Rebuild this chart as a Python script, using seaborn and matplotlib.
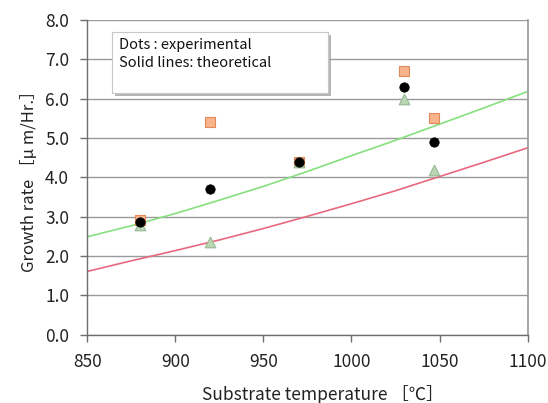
import matplotlib
matplotlib.use("Agg")
import matplotlib.pyplot as plt
import seaborn as sns
import pandas as pd
from matplotlib.patches import Rectangle

sns.set_theme(style="white")
plt.rcParams['font.family'] = ['Noto Sans CJK JP', 'DejaVu Sans']

# experimental data
temps = [880, 920, 970, 1030, 1047]
dots_circle = [2.87, 3.70, 4.40, 6.30, 4.90]
dots_square = [2.92, 5.40, 4.40, 6.70, 5.50]
dots_triangle = [2.80, 2.35, 4.38, 6.00, 4.19]

# theoretical lines
line_t = [850, 875, 900, 925, 950, 975, 1000, 1025, 1050, 1075, 1100]
line_green = [2.49, 2.77, 3.08, 3.42, 3.77, 4.15, 4.55, 4.94, 5.35, 5.76, 6.18]
line_red = [1.61, 1.88, 2.14, 2.41, 2.70, 3.01, 3.33, 3.66, 4.02, 4.38, 4.75]

xticks = [850, 900, 950, 1000, 1050, 1100]
yticks = [0, 1, 2, 3, 4, 5, 6, 7, 8]

fig = plt.figure(figsize=(5.48, 4.03), dpi=100)
ax = fig.add_axes([0.159, 0.169, 0.804, 0.782])

dfl = pd.DataFrame({"t": line_t, "g": line_green, "r": line_red})
sns.lineplot(data=dfl, x="t", y="g", ax=ax, color="#86E07E", lw=1.2, zorder=2)
sns.lineplot(data=dfl, x="t", y="r", ax=ax, color="#E8697E", lw=1.2, zorder=2)

dfp = pd.DataFrame({"t": temps, "c": dots_circle, "s": dots_square, "tr": dots_triangle})
sns.scatterplot(data=dfp, x="t", y="s", ax=ax, marker="s", s=52,
                color="#F9B48C", edgecolor="#E08A5A", linewidth=0.8, zorder=3)
sns.scatterplot(data=dfp, x="t", y="tr", ax=ax, marker="^", s=58,
                color="#BCD6B4", edgecolor="#97B894", linewidth=0.8, zorder=4)
sns.scatterplot(data=dfp, x="t", y="c", ax=ax, marker="o", s=46,
                color="black", edgecolor="black", linewidth=0.5, zorder=5)

ax.set_xlim(850, 1100)
ax.set_ylim(0, 8)
ax.set_xticks(xticks)
ax.set_xticklabels([str(v) for v in xticks])
ax.set_yticks(yticks)
ax.set_yticklabels([f"{v:.1f}" for v in yticks])
ax.yaxis.grid(True, color="#9A9A9A", lw=1.0)
ax.xaxis.grid(False)
ax.set_axisbelow(True)

for side in ["left", "bottom"]:
    ax.spines[side].set_color("#6E6E6E")
    ax.spines[side].set_linewidth(1.0)
ax.spines["right"].set_color("#9A9A9A")
ax.spines["top"].set_visible(False)

ax.tick_params(axis="both", direction="out", length=5, width=1, color="#6E6E6E",
               labelsize=12.5, labelcolor="#222222", left=True, bottom=True)
ax.tick_params(axis="y", pad=8)
ax.tick_params(axis="x", pad=8)

ax.set_xlabel("Substrate temperature ［℃］", fontsize=12.5, color="#222222")
ax.xaxis.set_label_coords(0.535, -0.158)
ax.set_ylabel("Growth rate ［μ m/Hr.］", fontsize=12, color="#222222", labelpad=5)

# annotation box with shadow
ax.add_patch(Rectangle((0.064, 0.758), 0.489, 0.194, transform=ax.transAxes,
                       facecolor="#A8A8A8", edgecolor="none", zorder=6, alpha=0.85))
ax.add_patch(Rectangle((0.057, 0.768), 0.489, 0.194, transform=ax.transAxes,
                       facecolor="white", edgecolor="#C8C8C8", lw=0.8, zorder=7))
ax.text(0.073, 0.921, "Dots : experimental", transform=ax.transAxes, fontsize=10.5,
        va="center", ha="left", color="#111111", zorder=8)
ax.text(0.073, 0.862, "Solid lines: theoretical", transform=ax.transAxes, fontsize=10.5,
        va="center", ha="left", color="#111111", zorder=8)

fig.savefig("out.png", dpi=100)
